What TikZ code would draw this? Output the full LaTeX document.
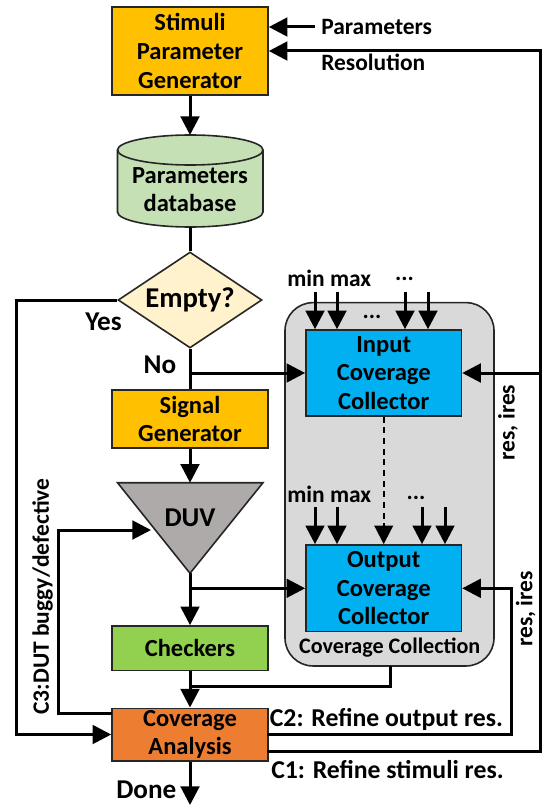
\documentclass[tikz,border=0pt]{standalone}
\usepackage{fontspec}
\setmainfont{Carlito}
\usetikzlibrary{arrows.meta,shapes.geometric}
\definecolor{cOrange}{HTML}{FFC000}
\definecolor{cOrangeD}{HTML}{ED7D31}
\definecolor{cGreenL}{HTML}{C5E0B4}
\definecolor{cGreen}{HTML}{92D050}
\definecolor{cYellow}{HTML}{FFF2CC}
\definecolor{cGrayD}{HTML}{AEAAAA}
\definecolor{cGray}{HTML}{D9D9D9}
\definecolor{cBlue}{HTML}{00B0F0}
\definecolor{cBorder}{HTML}{262626}
\begin{document}
\begin{tikzpicture}[x=0.75pt,y=-0.75pt,
  every node/.style={font=\fontsize{17.6}{21.5}\selectfont\bfseries},
  boxfont/.style={font=\fontsize{18.4}{21.5}\selectfont\bfseries},
  bigfont/.style={font=\fontsize{20.4}{24}\selectfont\bfseries},
  box/.style={boxfont, draw=cBorder, line width=1.2pt, align=center, inner sep=0pt, minimum width=117pt},
  conn/.style={line width=2.25pt, black},
  arr/.style={conn, -{Triangle[length=14pt,width=14pt]}},
  lbl/.style={inner sep=0pt},
]
\useasboundingbox (0,0) rectangle (542,806);

% coverage collection group
\node[draw=cBorder, line width=1.2pt, fill=cGray, rounded corners=21pt,
      minimum width=156.75pt, minimum height=272.5pt, inner sep=0pt] (cc) at (389.5,484.3) {};

% main boxes
\node[box, fill=cOrange, minimum height=65.8pt] (spg) at (190,51) {Stimuli\\Parameter\\Generator};
\node[box, fill=cOrange, minimum height=43.7pt] (sg) at (190,419) {Signal\\Generator};
\node[box, fill=cGreen, minimum height=33.5pt] (chk) at (190,648.3) {Checkers};
\node[box, fill=cOrangeD, minimum height=39.3pt] (ca) at (190,734.5) {Coverage\\Analysis};
\node[box, fill=cBlue, minimum width=116.6pt, minimum height=64.5pt] (icc) at (383.7,373) {Input\\Coverage\\Collector};
\node[box, fill=cBlue, minimum width=116.6pt, minimum height=65pt] (occ) at (383.7,588.3) {Output\\Coverage\\Collector};

% decision
\node[draw=cBorder, line width=1.2pt, fill=cYellow, diamond, aspect=1.5,
      minimum width=108pt, minimum height=72pt, inner sep=0pt,
      font=\fontsize{21.5}{24}\selectfont\bfseries] (dm) at (190,300) {Empty?};

% database cylinder
\draw[cBorder, line width=1.2pt, fill=cGreenL]
  (263,150) -- (263,212) arc[start angle=0, end angle=180, x radius=72.75, y radius=15]
  -- (117.5,150) arc[start angle=180, end angle=360, x radius=72.75, y radius=15] -- cycle;
\draw[cBorder, line width=1.2pt] (117.5,150) arc[start angle=180, end angle=0, x radius=72.75, y radius=15];
\node[boxfont, align=center, inner sep=0pt] (db) at (190,189.5) {Parameters\\database};
\coordinate (dbtop) at (190,135);
\coordinate (dbbot) at (190,227);

% DUV
\draw[cBorder, line width=1.2pt, fill=cGrayD] (117.5,482.7) -- (263,482.7) -- (190,573.3) -- cycle;
\node[inner sep=0pt, bigfont] (duv) at (190,518) {DUV};
\coordinate (duvtop) at (190,482.7);
\coordinate (duvbot) at (190,573.3);
\coordinate (duvleft) at (151,530);

% connectors
\draw[arr] (spg.south) -- (dbtop);
\draw[conn] (dbbot) -- (dm.north);
\coordinate (yesx) at (16.7,300);
\draw[arr] (dm.west) -- (yesx) |- (ca.west);
\draw[conn] (dm.south) -- (sg.north);
\coordinate (j1) at (190,373);
\draw[arr] (j1) -- (icc.west);
\draw[arr] (sg.south) -- (duvtop);
\draw[arr] (duvbot) -- (chk.north);
\coordinate (j2) at (190,588.3);
\draw[arr] (j2) -- (occ.west);
\draw[arr] (chk.south) -- (ca.north);
\coordinate (ccout) at (390.6,666);
\coordinate (j3) at (190,686);
\draw[conn] (ccout) |- (j3);

% C3
\coordinate (c3s) at (112,713.3);
\coordinate (c3x) at (58.5,713.3);
\draw[arr] (c3s) -- (c3x) |- (duvleft);
% C2
\coordinate (c2s) at (267,734);
\coordinate (c2x) at (511.7,734);
\draw[arr] (c2s) -- (c2x) |- (occ.east);
% C1
\coordinate (c1s) at (267,751);
\coordinate (c1c) at (540,51);
\draw[arr] (c1s) -| (c1c) -- (spg.east);
\coordinate (j4) at (540,373);
\draw[arr] (j4) -- (icc.east);
% Parameters input
\coordinate (pin) at (315,27);
\draw[arr] (pin) -- (spg.east |- pin);

% min/max arrows
\foreach \x in {315,337,405,428} \draw[arr] (\x,291.7) -- (icc.north -| \x,0);
\foreach \x in {315,337,422,445} \draw[arr] (\x,507) -- (occ.north -| \x,0);
\draw[arr, line width=1.5pt, dash pattern=on 4.5pt off 3.5pt] (icc.south) -- (occ.north);

% done
\coordinate (done) at (190,805);
\draw[arr] (ca.south) -- (done);

% labels
\node[lbl, anchor=west] (lpar) at (321,27) {Parameters};
\node[lbl, anchor=west] (lres) at (321,62) {Resolution};
\node[lbl, bigfont] (lyes) at (103.5,321.7) {Yes};
\node[lbl, bigfont] (lno) at (160,365) {No};
\node[lbl, anchor=west] (lmm1) at (287,278.3) {min max};
\node[lbl] (ld1) at (404.5,279) {...};
\node[lbl] (ld2) at (372,317) {...};
\node[lbl, anchor=west] (lmm2) at (287,494) {min max};
\node[lbl] (ld3) at (416,498) {...};
\node[lbl, font=\fontsize{16.6}{20}\selectfont\bfseries] (lcc) at (389.7,647.3) {Coverage Collection};
\node[lbl, rotate=90] (lc3) at (42.5,596.5) {C3:DUT buggy/defective};
\node[lbl, rotate=90] (lr1) at (508,422.5) {res, ires};
\node[lbl, rotate=90] (lr2) at (525.8,609) {res, ires};
\node[lbl, anchor=west, font=\fontsize{19.3}{22}\selectfont\bfseries] (lc2) at (269.6,719.3) {C2: Refine output res.};
\node[lbl, anchor=west, font=\fontsize{19.3}{22}\selectfont\bfseries] (lc1) at (271,770) {C1: Refine stimuli res.};
\node[lbl, bigfont] (ldone) at (146.3,790) {Done};
\end{tikzpicture}
\end{document}
